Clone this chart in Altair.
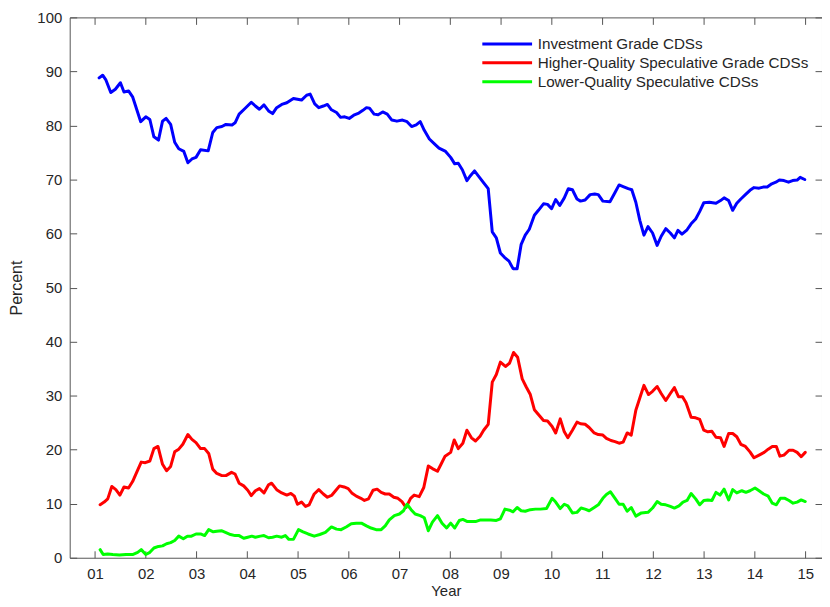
import altair as alt
import pandas as pd

series_names = ["Investment Grade CDSs",
                "Higher-Quality Speculative Grade CDSs",
                "Lower-Quality Speculative CDSs"]
series_colors = ["#0000FF", "#FF0000", "#00FF00"]

ig_year = [2001.08, 2001.15, 2001.21, 2001.31, 2001.40, 2001.50, 2001.57, 2001.66, 2001.74, 2001.90,
           2002.00, 2002.08, 2002.16, 2002.25, 2002.33, 2002.40, 2002.49, 2002.57, 2002.65, 2002.75,
           2002.83, 2002.91, 2002.99, 2003.08, 2003.23, 2003.32, 2003.40, 2003.50, 2003.58, 2003.70,
           2003.76, 2003.84, 2003.95, 2004.08, 2004.16, 2004.24, 2004.33, 2004.42, 2004.50, 2004.58,
           2004.68, 2004.78, 2004.91, 2005.07, 2005.17, 2005.24, 2005.33, 2005.41, 2005.50, 2005.58,
           2005.66, 2005.76, 2005.84, 2005.92, 2006.01, 2006.10, 2006.20, 2006.28, 2006.35, 2006.41,
           2006.50, 2006.58, 2006.67, 2006.76, 2006.85, 2006.95, 2007.06, 2007.15, 2007.24, 2007.33,
           2007.41, 2007.49, 2007.59, 2007.69, 2007.78, 2007.91, 2008.01, 2008.09, 2008.16, 2008.24,
           2008.33, 2008.40, 2008.48, 2008.57, 2008.65, 2008.75, 2008.83, 2008.91, 2008.99, 2009.07,
           2009.16, 2009.24, 2009.32, 2009.40, 2009.48, 2009.56, 2009.66, 2009.74, 2009.84, 2009.92,
           2010.00, 2010.08, 2010.16, 2010.25, 2010.33, 2010.41, 2010.50, 2010.57, 2010.66, 2010.76,
           2010.85, 2010.92, 2011.01, 2011.15, 2011.25, 2011.33, 2011.41, 2011.51, 2011.58, 2011.66,
           2011.74, 2011.82, 2011.90, 2011.99, 2012.08, 2012.16, 2012.25, 2012.34, 2012.42, 2012.49,
           2012.57, 2012.67, 2012.75, 2012.84, 2012.92, 2013.00, 2013.11, 2013.24, 2013.33, 2013.40,
           2013.49, 2013.57, 2013.65, 2013.73, 2013.82, 2013.91, 2013.99, 2014.09, 2014.17, 2014.25,
           2014.34, 2014.42, 2014.49, 2014.58, 2014.67, 2014.75, 2014.84, 2014.90, 2014.99]
ig_val = [88.8, 89.3, 88.5, 86.1, 86.7, 87.9, 86.2, 86.4, 85.3, 80.7,
          81.6, 81.1, 77.9, 77.3, 80.8, 81.3, 80.2, 76.9, 75.7, 75.2,
          73.1, 73.8, 74.1, 75.5, 75.3, 78.7, 79.6, 79.8, 80.2, 80.1,
          80.5, 82.1, 83.1, 84.3, 83.6, 83.0, 83.8, 82.7, 82.2, 83.3,
          83.9, 84.2, 85.0, 84.7, 85.6, 85.8, 84.0, 83.3, 83.6, 83.9,
          82.9, 82.4, 81.5, 81.6, 81.3, 81.9, 82.3, 82.8, 83.3, 83.2,
          82.1, 82.0, 82.5, 82.1, 81.0, 80.8, 81.0, 80.7, 79.8, 80.1,
          80.7, 79.1, 77.5, 76.6, 75.8, 75.2, 74.1, 72.9, 73.0, 71.8,
          69.8, 70.7, 71.6, 70.5, 69.5, 68.3, 60.3, 59.2, 56.4, 55.6,
          54.9, 53.5, 53.5, 58.0, 59.7, 60.8, 63.4, 64.3, 65.5, 65.4,
          64.6, 66.3, 65.2, 66.6, 68.3, 68.1, 66.4, 66.0, 66.2, 67.2,
          67.3, 67.2, 66.0, 65.9, 67.6, 69.0, 68.7, 68.3, 68.1, 65.8,
          62.4, 59.7, 61.3, 60.1, 57.8, 59.5, 60.9, 60.1, 59.2, 60.6,
          59.9, 60.7, 61.8, 62.7, 64.1, 65.7, 65.8, 65.6, 66.1, 66.6,
          66.1, 64.3, 65.6, 66.4, 67.2, 68.0, 68.5, 68.4, 68.6, 68.6,
          69.2, 69.5, 69.9, 69.8, 69.5, 69.8, 69.9, 70.4, 70.0]

hq_year = [2001.10, 2001.18, 2001.25, 2001.33, 2001.41, 2001.49, 2001.57, 2001.66, 2001.74, 2001.82,
           2001.91, 2001.99, 2002.08, 2002.16, 2002.24, 2002.33, 2002.41, 2002.49, 2002.57, 2002.65,
           2002.73, 2002.83, 2002.91, 2002.99, 2003.08, 2003.16, 2003.24, 2003.32, 2003.40, 2003.50,
           2003.58, 2003.69, 2003.76, 2003.84, 2003.93, 2004.01, 2004.08, 2004.16, 2004.24, 2004.33,
           2004.42, 2004.48, 2004.58, 2004.68, 2004.78, 2004.86, 2004.93, 2004.99, 2005.07, 2005.15,
           2005.22, 2005.32, 2005.41, 2005.50, 2005.58, 2005.67, 2005.74, 2005.82, 2005.91, 2005.99,
           2006.06, 2006.15, 2006.24, 2006.31, 2006.39, 2006.48, 2006.56, 2006.64, 2006.72, 2006.80,
           2006.89, 2006.97, 2007.05, 2007.13, 2007.22, 2007.29, 2007.39, 2007.48, 2007.57, 2007.65,
           2007.75, 2007.82, 2007.90, 2008.01, 2008.08, 2008.16, 2008.25, 2008.33, 2008.42, 2008.50,
           2008.59, 2008.66, 2008.75, 2008.83, 2008.91, 2008.99, 2009.09, 2009.17, 2009.25, 2009.33,
           2009.42, 2009.50, 2009.58, 2009.66, 2009.74, 2009.84, 2009.92, 2010.01, 2010.08, 2010.17,
           2010.25, 2010.32, 2010.41, 2010.50, 2010.57, 2010.66, 2010.74, 2010.84, 2010.92, 2011.01,
           2011.08, 2011.17, 2011.25, 2011.33, 2011.41, 2011.49, 2011.57, 2011.66, 2011.74, 2011.82,
           2011.91, 2011.99, 2012.08, 2012.16, 2012.25, 2012.34, 2012.42, 2012.50, 2012.58, 2012.65,
           2012.75, 2012.84, 2012.92, 2013.00, 2013.08, 2013.16, 2013.24, 2013.33, 2013.40, 2013.49,
           2013.57, 2013.65, 2013.73, 2013.82, 2013.91, 2013.99, 2014.09, 2014.19, 2014.27, 2014.35,
           2014.43, 2014.50, 2014.58, 2014.68, 2014.76, 2014.84, 2014.92, 2015.00]
hq_val = [9.8, 10.3, 10.9, 13.2, 12.6, 11.6, 13.1, 12.9, 14.1, 15.8,
          17.7, 17.6, 17.9, 20.2, 20.6, 17.3, 16.1, 16.9, 19.6, 20.1,
          21.0, 22.8, 21.9, 21.3, 20.2, 20.2, 19.3, 16.4, 15.6, 15.2,
          15.2, 15.8, 15.5, 13.8, 13.3, 12.5, 11.5, 12.4, 12.8, 12.0,
          13.5, 13.8, 12.6, 12.0, 11.6, 11.9, 11.4, 9.9, 10.3, 9.5,
          9.8, 11.8, 12.6, 11.8, 11.2, 11.6, 12.4, 13.3, 13.1, 12.8,
          12.0, 11.4, 11.0, 10.6, 10.9, 12.5, 12.7, 12.1, 11.8, 11.8,
          11.2, 11.0, 10.4, 9.3, 11.0, 11.6, 11.3, 13.0, 17.0, 16.5,
          16.0, 17.3, 18.8, 19.5, 21.8, 20.2, 21.2, 23.6, 22.2, 21.6,
          22.5, 23.6, 24.7, 32.5, 33.9, 36.2, 35.4, 36.0, 38.0, 37.1,
          33.1, 31.6, 30.2, 27.4, 26.5, 25.4, 25.3, 24.3, 23.1, 25.7,
          23.3, 22.2, 23.6, 25.1, 24.8, 24.7, 24.1, 23.1, 22.8, 22.7,
          22.1, 21.7, 21.5, 21.2, 21.4, 23.1, 22.7, 27.3, 29.6, 31.9,
          30.2, 30.8, 31.7, 30.4, 29.1, 30.4, 31.5, 29.8, 29.8, 28.7,
          26.0, 25.9, 25.6, 23.6, 23.3, 23.4, 22.3, 22.2, 20.6, 23.0,
          23.0, 22.4, 21.0, 20.6, 19.6, 18.5, 19.0, 19.5, 20.1, 20.6,
          20.6, 18.8, 19.0, 19.9, 19.9, 19.5, 18.7, 19.5]

lq_year = [2001.10, 2001.16, 2001.25, 2001.35, 2001.48, 2001.61, 2001.74, 2001.84, 2001.91, 2002.00,
           2002.08, 2002.16, 2002.25, 2002.33, 2002.41, 2002.49, 2002.57, 2002.65, 2002.74, 2002.82,
           2002.90, 2002.99, 2003.08, 2003.16, 2003.24, 2003.33, 2003.40, 2003.49, 2003.57, 2003.67,
           2003.76, 2003.84, 2003.93, 2004.01, 2004.09, 2004.16, 2004.26, 2004.33, 2004.42, 2004.50,
           2004.58, 2004.68, 2004.75, 2004.82, 2004.91, 2005.01, 2005.10, 2005.20, 2005.32, 2005.43,
           2005.54, 2005.66, 2005.76, 2005.85, 2005.95, 2006.05, 2006.15, 2006.25, 2006.35, 2006.44,
           2006.54, 2006.64, 2006.72, 2006.80, 2006.90, 2007.00, 2007.08, 2007.15, 2007.23, 2007.31,
           2007.41, 2007.49, 2007.57, 2007.65, 2007.75, 2007.84, 2007.93, 2008.01, 2008.09, 2008.18,
           2008.25, 2008.34, 2008.42, 2008.50, 2008.60, 2008.70, 2008.80, 2008.91, 2008.99, 2009.08,
           2009.17, 2009.24, 2009.32, 2009.40, 2009.48, 2009.58, 2009.68, 2009.78, 2009.90, 2010.01,
           2010.08, 2010.17, 2010.25, 2010.32, 2010.41, 2010.50, 2010.58, 2010.66, 2010.74, 2010.84,
           2010.92, 2011.01, 2011.08, 2011.16, 2011.25, 2011.33, 2011.41, 2011.49, 2011.57, 2011.66,
           2011.77, 2011.90, 2011.99, 2012.08, 2012.16, 2012.25, 2012.34, 2012.42, 2012.51, 2012.59,
           2012.67, 2012.75, 2012.84, 2012.92, 2013.00, 2013.08, 2013.16, 2013.24, 2013.32, 2013.40,
           2013.49, 2013.57, 2013.65, 2013.75, 2013.83, 2013.91, 2014.01, 2014.09, 2014.18, 2014.27,
           2014.35, 2014.43, 2014.51, 2014.60, 2014.68, 2014.76, 2014.84, 2014.92, 2015.00]
lq_val = [1.5, 0.6, 0.7, 0.6, 0.5, 0.6, 0.6, 1.0, 1.5, 0.6,
          1.0, 1.8, 2.1, 2.2, 2.6, 2.8, 3.2, 4.0, 3.5, 4.0,
          4.0, 4.4, 4.4, 4.1, 5.2, 4.8, 4.9, 5.0, 4.7, 4.3,
          4.1, 4.1, 3.6, 3.8, 4.0, 3.8, 4.0, 4.1, 3.7, 3.8,
          4.0, 3.8, 4.1, 3.4, 3.4, 5.2, 4.8, 4.4, 4.0, 4.3,
          4.7, 5.7, 5.3, 5.2, 5.7, 6.3, 6.4, 6.4, 5.9, 5.5,
          5.2, 5.2, 5.9, 7.0, 7.8, 8.1, 8.7, 9.9, 8.9, 8.1,
          7.8, 7.4, 5.0, 6.6, 7.8, 6.4, 5.5, 6.4, 5.5, 6.9,
          7.1, 6.7, 6.7, 6.7, 7.0, 7.0, 7.0, 6.9, 7.2, 9.0,
          8.8, 8.5, 9.3, 8.7, 8.6, 8.9, 9.0, 9.0, 9.1, 11.0,
          10.3, 9.1, 9.9, 9.6, 8.3, 8.4, 9.2, 9.0, 8.7, 9.3,
          9.8, 11.0, 11.7, 12.2, 11.0, 9.9, 9.9, 8.6, 9.3, 7.7,
          8.3, 8.4, 9.2, 10.4, 9.9, 9.8, 9.5, 9.2, 9.6, 10.3,
          10.6, 11.9, 10.9, 9.8, 10.6, 10.7, 10.6, 12.1, 11.6, 12.7,
          10.7, 12.6, 12.0, 12.4, 12.1, 12.4, 12.9, 12.4, 11.8, 11.4,
          10.1, 9.8, 11.0, 11.0, 10.6, 10.1, 10.3, 10.7, 10.4]

year_ticks = list(range(2001, 2016))
pct_ticks = list(range(0, 101, 10))

rows = []
for name, ys, vs in zip(series_names, [ig_year, hq_year, lq_year], [ig_val, hq_val, lq_val]):
    for i, (a, b) in enumerate(zip(ys, vs)):
        rows.append({"series": name, "year": a, "value": b, "order": i})
df = pd.DataFrame(rows)

axis_color = "#555555"
text_color = "#262626"
font = "Liberation Sans"

x_scale = alt.Scale(domain=[2000.5, 2015.33], nice=False, zero=False)
y_scale = alt.Scale(domain=[0, 100], nice=False)

main = alt.Chart(df).mark_line(strokeWidth=3, strokeJoin="round", strokeCap="round").encode(
    x=alt.X("year:Q", scale=x_scale,
            axis=alt.Axis(values=year_ticks, labelExpr="slice(toString(datum.value), 2)",
                          title="Year", orient="bottom", domain=False, grid=False,
                          tickSize=7, offset=-7, labelPadding=9, tickColor=axis_color,
                          labelFontSize=15, labelColor=text_color, labelFont=font,
                          titleFont=font, titleFontSize=15, titleFontWeight="normal",
                          titleColor=text_color, titlePadding=2)),
    y=alt.Y("value:Q", scale=y_scale,
            axis=alt.Axis(values=pct_ticks, title="Percent", orient="left", domain=False,
                          grid=False, tickSize=7, offset=-7, labelPadding=8,
                          tickColor=axis_color, labelFontSize=15, labelColor=text_color,
                          labelFont=font, titleFont=font, titleFontSize=16,
                          titleFontWeight="normal", titleColor=text_color, titlePadding=12)),
    color=alt.Color("series:N",
                    scale=alt.Scale(domain=series_names, range=series_colors),
                    legend=alt.Legend(title=None, orient="none", legendX=432, legendY=19,
                                      padding=0, symbolType="M-5,0H5", symbolSize=100,
                                      symbolStrokeWidth=3, labelOffset=23, rowPadding=3,
                                      labelLimit=0,
                                      labelFont=font, labelFontSize=15.3, labelColor=text_color)),
    order="order:Q",
)

frame = alt.Chart(df).mark_line(opacity=0).encode(
    x=alt.X("year:Q", scale=x_scale,
            axis=alt.Axis(values=year_ticks, orient="top", labels=False, title=None,
                          domain=False, grid=False, tickSize=7, offset=-7,
                          tickColor=axis_color)),
    y=alt.Y("value:Q", scale=y_scale,
            axis=alt.Axis(values=pct_ticks, orient="right", labels=False, title=None,
                          domain=False, grid=False, tickSize=7, offset=-7,
                          tickColor=axis_color)),
    detail="series:N",
)

chart = alt.layer(main, frame).resolve_axis(x="independent", y="independent").properties(
    width=756, height=543,
    autosize=alt.AutoSizeParams(type="none"),
    padding={"left": 62, "top": 8, "right": 0, "bottom": 40},
).configure_view(stroke=axis_color, strokeWidth=1)

chart.save("out.html", embed_options={"renderer": "svg", "actions": False})
